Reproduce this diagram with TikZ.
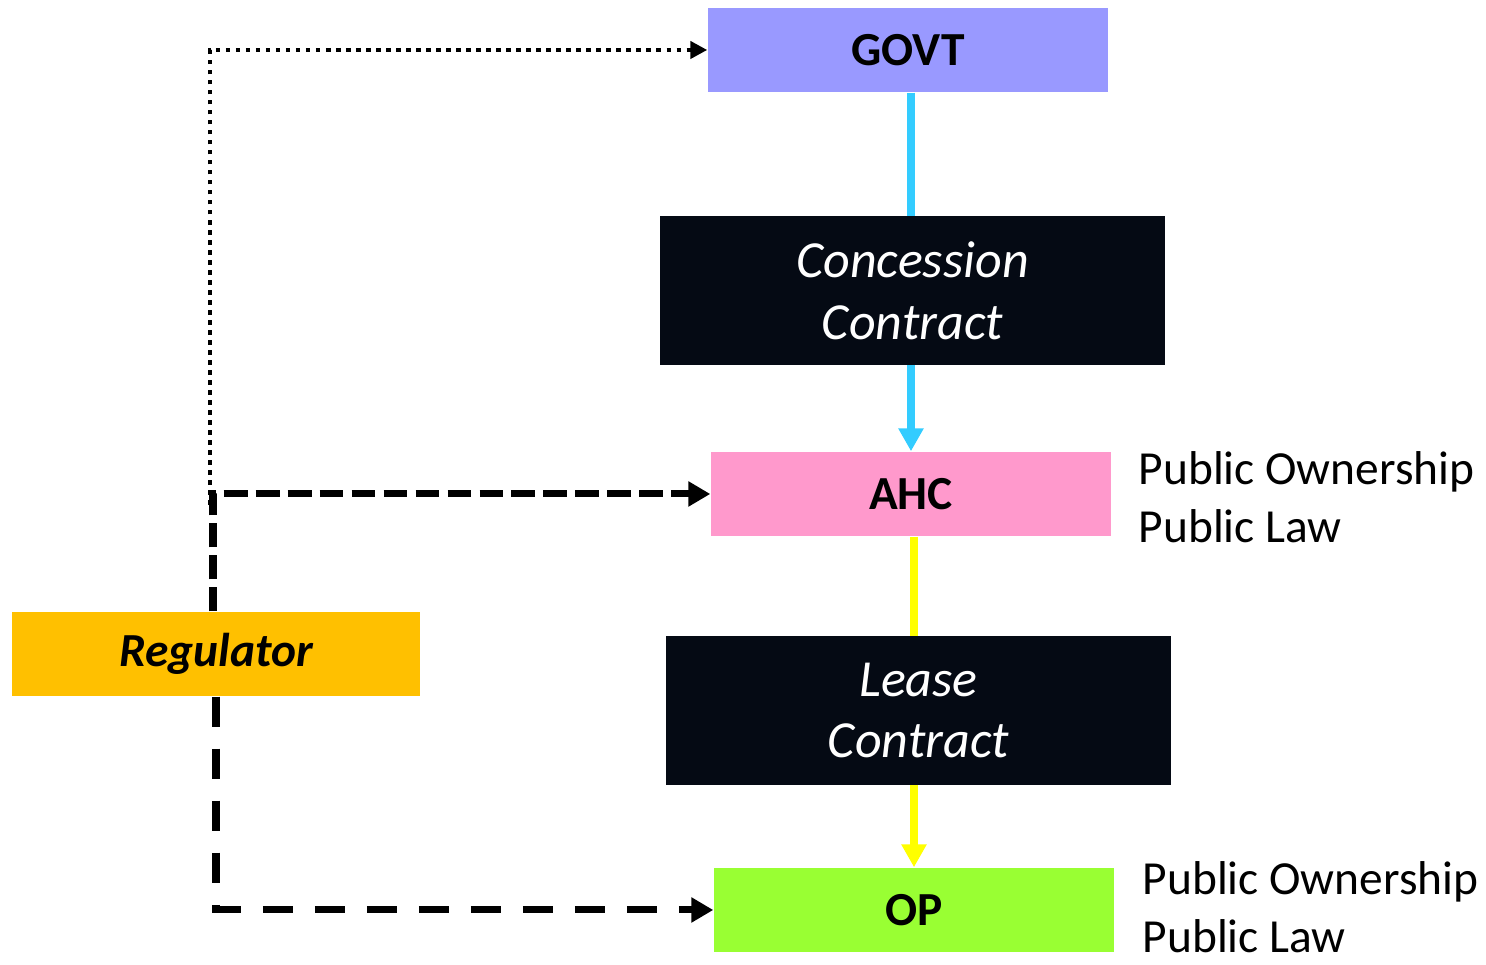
\documentclass[tikz,border=0pt]{standalone}
\usepackage{fontspec}
\setmainfont{Carlito}
\usetikzlibrary{arrows.meta,backgrounds,calc}
\definecolor{govtc}{HTML}{9999FF}
\definecolor{ahcc}{HTML}{FF99CC}
\definecolor{opc}{HTML}{99FF33}
\definecolor{regc}{HTML}{FFC000}
\definecolor{contc}{HTML}{050A14}
\definecolor{bluec}{HTML}{33CCFF}
\definecolor{yellc}{HTML}{FFFF00}
\tikzset{
  entity/.style={minimum width=4cm, minimum height=0.84cm, inner sep=0pt,
    font=\fontsize{13.5pt}{16pt}\selectfont\bfseries},
  contract/.style={fill=contc, minimum width=5.05cm, minimum height=1.49cm,
    inner sep=0pt, align=center, text=white,
    font=\fontsize{14.8pt}{17.6pt}\selectfont\itshape},
  note/.style={anchor=west, align=left, inner sep=0pt,
    font=\fontsize{13.5pt}{16.5pt}\selectfont},
  flowblue/.style={draw=bluec, line width=2pt, -{Triangle[length=0.23cm,width=0.24cm]}},
  flowyell/.style={draw=yellc, line width=2.2pt, -{Triangle[length=0.23cm,width=0.24cm]}},
  dotlink/.style={line width=1.35pt, dash pattern=on 1.3pt off 1.55pt,
    -{Triangle[length=0.17cm,width=0.17cm]}},
  dashlinkA/.style={line width=2pt, dash pattern=on 6.8pt off 2.3pt,
    -{Triangle[length=0.22cm,width=0.24cm]}},
  dashlinkB/.style={line width=2pt, dash pattern=on 8.5pt off 6.3pt,
    -{Triangle[length=0.22cm,width=0.24cm]}},
}
\begin{document}
\begin{tikzpicture}
\useasboundingbox (0,0) rectangle (14.86,9.65);
\node[entity, fill=govtc] (govt) at (9.08,9.15) {GOVT};
\node[contract] (conc) at (9.125,6.745) {Concession\\Contract};
\node[entity, fill=ahcc] (ahc) at (9.11,4.71) {AHC};
\node[contract] (lease) at (9.185,2.545) {Lease\\Contract};
\node[entity, fill=opc] (op) at (9.14,0.55) {OP};
\node[entity, fill=regc, minimum width=4.08cm, font=\fontsize{13.5pt}{16pt}\selectfont\bfseries\itshape] (reg) at (2.16,3.11) {Regulator};
\node[note] (n1) at (11.38,4.68) {Public Ownership\\Public Law};
\node[note] (n2) at (11.42,0.58) {Public Ownership\\Public Law};
\coordinate (dstart) at (2.10,4.60);
\begin{pgfonlayer}{background}
\draw[flowblue] (ahc.north |- govt.south) -- (ahc.north);
\draw[flowyell] (op.north |- ahc.south) -- (op.north);
\end{pgfonlayer}
\draw[dotlink] (dstart) |- (govt.west);
\draw[dashlinkA] ([xshift=-0.03cm]reg.north) |- (ahc.west);
\draw[dashlinkB] (reg.south) |- (op.west);
\end{tikzpicture}
\end{document}
